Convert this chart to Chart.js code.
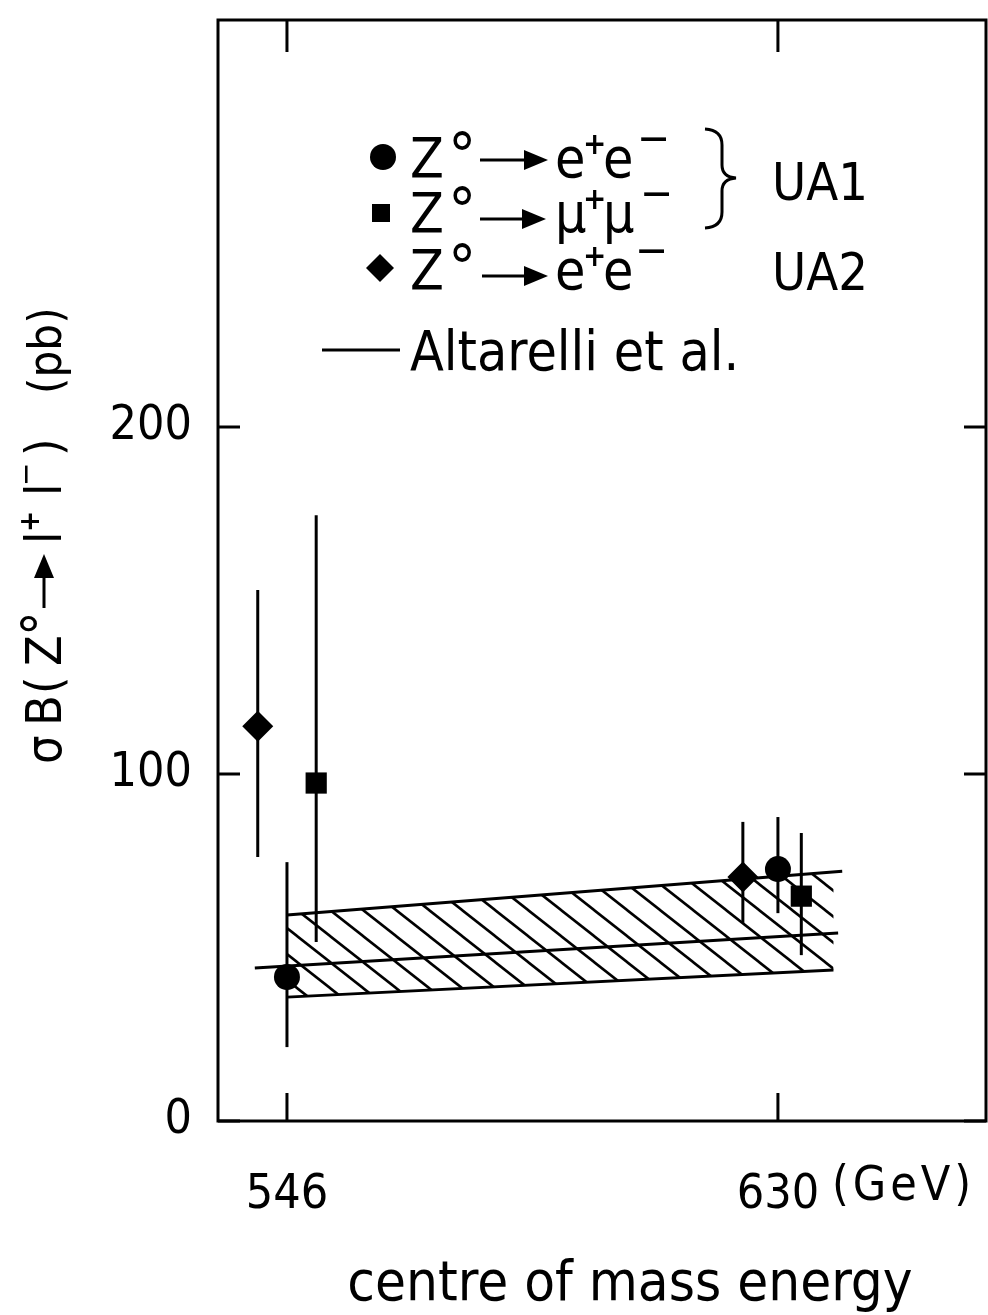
<!DOCTYPE html>
<html>
<head>
<meta charset="utf-8">
<script src="https://cdn.jsdelivr.net/npm/chart.js@4.4.1/dist/chart.umd.min.js"></script>
<style>
  html, body { margin: 0; padding: 0; background: #fff; overflow: hidden; }
  #wrap { width: 988px; height: 1315px; position: relative; }
  canvas { display: block; }
</style>
</head>
<body>
<div id="wrap"><canvas id="sigmaChart"></canvas></div>
<script>
// values (sigma*B in pb, sqrt(s) in GeV)
const xTicks = [546, 630];
const yTicks = [0, 100, 200];

const ua1eeX = [546, 630];
const ua1eeY = [41.5, 72.6];
const ua1eeLow = [21.3, 59.9];
const ua1eeHigh = [74.6, 87.6];

const ua1mumuX = [551, 634];
const ua1mumuY = [97.4, 64.8];
const ua1mumuLow = [51.6, 47.8];
const ua1mumuHigh = [174.6, 83.0];

const ua2eeX = [541, 624];
const ua2eeY = [113.8, 70.3];
const ua2eeLow = [76.1, 57.1];
const ua2eeHigh = [153.0, 86.2];

// Altarelli et al. prediction and its band
const theoryX = [540.5, 640.3];
const theoryY = [44.1, 54.2];
const bandUpperX = [546, 641];
const bandUpperY = [59.4, 72.0];
const bandLowerX = [546, 639.5];
const bandLowerY = [35.7, 43.5];

const FONT = "'DejaVu Sans Condensed', 'DejaVu Sans', sans-serif";

const toPoints = (xs, ys) => xs.map((x, i) => ({ x: x, y: ys[i] }));

const errorSets = [
    { x: ua1eeX, lo: ua1eeLow, hi: ua1eeHigh },
    { x: ua1mumuX, lo: ua1mumuLow, hi: ua1mumuHigh },
    { x: ua2eeX, lo: ua2eeLow, hi: ua2eeHigh }
];

function makeHatch() {
    const w = 33, h = 26;
    const c = document.createElement('canvas');
    c.width = w;
    c.height = h;
    const g = c.getContext('2d');
    g.strokeStyle = '#000';
    g.lineWidth = 2.6;
    [-w, 0, w].forEach(off => {
        g.beginPath();
        g.moveTo(off - w, -h);
        g.lineTo(off + 2 * w, 2 * h);
        g.stroke();
    });
    return g.createPattern(c, 'repeat');
}

function drawArrow(ctx, x0, x1, y) {
    ctx.beginPath();
    ctx.moveTo(x0, y);
    ctx.lineTo(x1 - 18, y);
    ctx.lineWidth = 3;
    ctx.stroke();
    ctx.beginPath();
    ctx.moveTo(x1, y);
    ctx.lineTo(x1 - 24, y - 10);
    ctx.lineTo(x1 - 24, y + 10);
    ctx.closePath();
    ctx.fill();
}

// draws pieces of text at offsets along the baseline, with super/subscript shifts
function drawRich(ctx, x, y, parts, size) {
    parts.forEach(p => {
        if (p.arrow) {
            drawArrow(ctx, x + p.at, x + p.to, y - size * 0.34);
            return;
        }
        ctx.font = `${p.bold ? 'bold ' : ''}${Math.round(size * (p.s || 1))}px ${FONT}`;
        ctx.letterSpacing = (p.ls || 0) + 'px';
        ctx.fillText(p.t, x + p.at, y + (p.dy || 0) * size);
    });
    ctx.letterSpacing = '0px';
}

const errorBars = {
    id: 'errorBars',
    beforeDatasetsDraw(chart) {
        const { ctx, scales: { x, y } } = chart;
        ctx.save();
        ctx.strokeStyle = '#000';
        ctx.lineWidth = 3;
        errorSets.forEach(s => {
            s.x.forEach((v, i) => {
                const px = x.getPixelForValue(v);
                ctx.beginPath();
                ctx.moveTo(px, y.getPixelForValue(s.lo[i]));
                ctx.lineTo(px, y.getPixelForValue(s.hi[i]));
                ctx.stroke();
            });
        });
        ctx.restore();
    }
};

const frame = {
    id: 'frame',
    afterDraw(chart) {
        const { ctx, chartArea: a, scales: { x, y } } = chart;
        ctx.save();
        ctx.strokeStyle = '#000';
        ctx.lineWidth = 3;
        ctx.strokeRect(a.left, a.top, a.right - a.left, a.bottom - a.top);
        ctx.beginPath();
        yTicks.forEach(v => {
            const py = y.getPixelForValue(v);
            ctx.moveTo(a.left, py);
            ctx.lineTo(a.left + 22, py);
            ctx.moveTo(a.right, py);
            ctx.lineTo(a.right - 22, py);
        });
        xTicks.forEach(v => {
            const px = x.getPixelForValue(v);
            ctx.moveTo(px, a.bottom);
            ctx.lineTo(px, a.bottom - 28);
            ctx.moveTo(px, a.top);
            ctx.lineTo(px, a.top + 32);
        });
        ctx.stroke();
        ctx.restore();
    }
};

const annotations = {
    id: 'annotations',
    afterDraw(chart) {
        const { ctx, scales: { x } } = chart;
        ctx.save();
        ctx.fillStyle = '#000';
        ctx.strokeStyle = '#000';
        ctx.textAlign = 'left';
        ctx.textBaseline = 'alphabetic';
        const size = 55;

        // legend markers
        ctx.beginPath();
        ctx.arc(383, 157, 13, 0, Math.PI * 2);
        ctx.fill();
        ctx.fillRect(372, 204, 18, 18);
        ctx.beginPath();
        ctx.moveTo(366, 268);
        ctx.lineTo(380, 254);
        ctx.lineTo(394, 268);
        ctx.lineTo(380, 282);
        ctx.closePath();
        ctx.fill();

        const zPart = [{ t: 'Z', at: 0 }, { t: '°', at: 38, s: 1.15 }];
        const leptons = (l, minusAt) => [
            { t: l, at: 0 },
            { t: '+', at: 28, s: 0.56, dy: -0.42, bold: true },
            { t: l, at: 48 },
            { t: '−', at: minusAt, s: 0.8, dy: -0.44 }
        ];
        // row 1
        drawRich(ctx, 410, 177, zPart, size);
        drawArrow(ctx, 480, 548, 160);
        drawRich(ctx, 555, 177, leptons('e', 82), size);
        // row 2
        drawRich(ctx, 410, 232, zPart, size);
        drawArrow(ctx, 480, 546, 219);
        drawRich(ctx, 555, 232, leptons('μ', 85), size);
        // row 3
        drawRich(ctx, 410, 289, zPart, size);
        drawArrow(ctx, 482, 548, 276);
        drawRich(ctx, 555, 289, leptons('e', 80), size);

        // brace and experiment names
        ctx.lineWidth = 3;
        ctx.beginPath();
        ctx.moveTo(705, 129);
        ctx.quadraticCurveTo(722, 130, 722, 145);
        ctx.lineTo(722, 165);
        ctx.quadraticCurveTo(722, 177, 736, 178);
        ctx.quadraticCurveTo(722, 179, 722, 191);
        ctx.lineTo(722, 212);
        ctx.quadraticCurveTo(722, 227, 705, 228);
        ctx.stroke();
        drawRich(ctx, 772, 200, [{ t: 'UA1', at: 0, s: 0.95 }], size);
        drawRich(ctx, 772, 290, [{ t: 'UA2', at: 0, s: 0.95 }], size);

        // theory entry
        ctx.beginPath();
        ctx.moveTo(322, 350);
        ctx.lineTo(400, 350);
        ctx.stroke();
        drawRich(ctx, 410, 370, [{ t: 'Altarelli et al.', at: 0 }], size);

        // unit next to the 630 tick label
        ctx.font = `48px ${FONT}`;
        ctx.letterSpacing = '4px';
        ctx.textBaseline = 'middle';
        ctx.fillText('(GeV)', x.getPixelForValue(630) + 54, 1188);
        ctx.letterSpacing = '0px';

        // x axis title
        ctx.textBaseline = 'alphabetic';
        ctx.textAlign = 'center';
        ctx.font = `56px ${FONT}`;
        ctx.fillText('centre of mass energy', 630, 1300);

        // y axis title, read bottom to top
        ctx.textAlign = 'left';
        ctx.translate(61, 766);
        ctx.rotate(-Math.PI / 2);
        drawRich(ctx, 0, 0, [
            { t: 'σ', at: 2 },
            { t: 'B', at: 40 },
            { t: '(', at: 72 },
            { t: 'Z', at: 100 },
            { t: '°', at: 130, s: 1.1 },
            { arrow: true, at: 158, to: 212 },
            { t: 'l', at: 222 },
            { t: '+', at: 234, s: 0.55, dy: -0.45, bold: true },
            { t: 'l', at: 270 },
            { t: '−', at: 280, s: 0.62, dy: -0.5 },
            { t: ')', at: 310 },
            { t: '(pb)', at: 372, s: 0.94 }
        ], 50);
        ctx.restore();
    }
};

const noPad = scale => {
    scale.paddingTop = 0;
    scale.paddingBottom = 0;
    scale.paddingLeft = 0;
    scale.paddingRight = 0;
};

const ctx = document.getElementById('sigmaChart').getContext('2d');
const hatch = makeHatch();

new Chart(ctx, {
    type: 'scatter',
    data: {
        datasets: [{
            label: 'Z° → e+e− (UA1)',
            data: toPoints(ua1eeX, ua1eeY),
            pointStyle: 'circle',
            pointRadius: 13,
            backgroundColor: '#000',
            borderColor: '#000',
            borderWidth: 0
        }, {
            label: 'Z° → μ+μ− (UA1)',
            data: toPoints(ua1mumuX, ua1mumuY),
            pointStyle: 'rect',
            pointRadius: 15,
            backgroundColor: '#000',
            borderColor: '#000',
            borderWidth: 0
        }, {
            label: 'Z° → e+e− (UA2)',
            data: toPoints(ua2eeX, ua2eeY),
            pointStyle: 'rectRot',
            pointRadius: 15.5,
            backgroundColor: '#000',
            borderColor: '#000',
            borderWidth: 0
        }, {
            label: 'Altarelli et al.',
            type: 'line',
            data: toPoints(theoryX, theoryY),
            borderColor: '#000',
            borderWidth: 3,
            pointRadius: 0,
            fill: false
        }, {
            label: 'band upper',
            type: 'line',
            data: toPoints(bandUpperX, bandUpperY),
            borderColor: '#000',
            borderWidth: 3,
            pointRadius: 0,
            backgroundColor: hatch,
            fill: '+1'
        }, {
            label: 'band lower',
            type: 'line',
            data: toPoints(bandLowerX, bandLowerY),
            borderColor: '#000',
            borderWidth: 3,
            pointRadius: 0,
            fill: false
        }]
    },
    options: {
        responsive: true,
        maintainAspectRatio: false,
        animation: false,
        layout: { autoPadding: false, padding: { top: 20, right: 2, left: 0, bottom: 0 } },
        plugins: {
            legend: { display: false },
            tooltip: { enabled: false }
        },
        scales: {
            x: {
                type: 'linear',
                min: 534.2,
                max: 665.6,
                afterBuildTicks: axis => { axis.ticks = xTicks.map(v => ({ value: v })); },
                afterFit: scale => { scale.height = 194; noPad(scale); },
                grid: { display: false },
                border: { display: false },
                ticks: {
                    padding: 38,
                    color: '#000',
                    font: { family: FONT, size: 48 },
                    callback: v => String(v)
                }
            },
            y: {
                min: 0,
                max: 317.3,
                afterBuildTicks: axis => { axis.ticks = yTicks.map(v => ({ value: v })); },
                afterFit: scale => { scale.width = 218; noPad(scale); },
                grid: { display: false },
                border: { display: false },
                ticks: {
                    padding: 18,
                    color: '#000',
                    font: { family: FONT, size: 48 },
                    callback: v => String(v)
                }
            }
        }
    },
    plugins: [errorBars, frame, annotations]
});
</script>
</body>
</html>
